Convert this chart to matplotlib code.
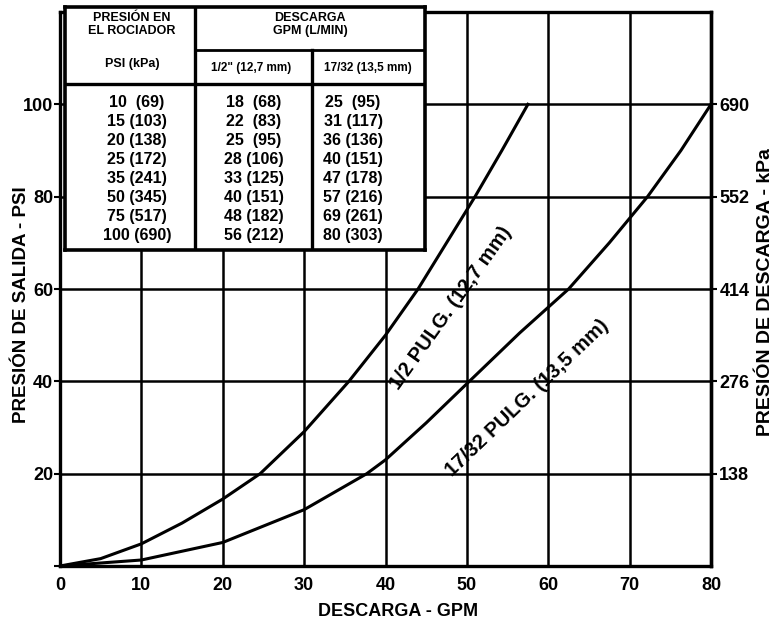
import numpy as np
import matplotlib.pyplot as plt

plt.rcParams['font.family'] = ['Liberation Sans', 'DejaVu Sans']
plt.rcParams['font.weight'] = 'bold'

# curve readings (GPM vs PSI)
gpm_half = [0, 5, 10, 15, 20, 24.6, 30, 35.5, 40, 44, 47.5, 51, 54.3, 57.5]
psi_half = [0, 1.6, 4.8, 9.3, 14.5, 20, 29.1, 40, 50, 60, 70, 80, 90, 100]
gpm_1732 = [0, 10, 20, 30, 37.7, 40, 45, 50.3, 56.5, 62.5, 67.5, 72.2, 76.3, 80]
psi_1732 = [0, 1.3, 5.1, 12.2, 20, 23, 31, 40, 50.5, 60, 70, 80, 90, 100]

x_ticks = [0, 10, 20, 30, 40, 50, 60, 70, 80]
psi_ticks = [0, 20, 40, 60, 80, 100]
kpa_ticks = [138, 276, 414, 552, 690]

# table contents
tab_psi = ['10  (69)', '15 (103)', '20 (138)', '25 (172)', '35 (241)',
           '50 (345)', '75 (517)', '100 (690)']
tab_half = ['18  (68)', '22  (83)', '25  (95)', '28 (106)', '33 (125)',
            '40 (151)', '48 (182)', '56 (212)']
tab_1732 = ['25  (95)', '31 (117)', '36 (136)', '40 (151)', '47 (178)',
            '57 (216)', '69 (261)', '80 (303)']

W, H = 779, 638
fig = plt.figure(figsize=(W / 100, H / 100), dpi=100)
ax = fig.add_axes([60 / W, 72 / H, 651 / W, 554 / H])
ax.set_xlim(0, 80)
ax.set_ylim(0, 120)

ax.set_xticks(x_ticks)
ax.set_xticklabels([str(v) for v in x_ticks])
ax.set_yticks(psi_ticks)
ax.set_yticklabels([''] + [str(v) for v in psi_ticks[1:]])
ax.grid(True, color='black', lw=1.8)
ax.set_axisbelow(True)
ax.tick_params(axis='x', length=0, pad=8, labelsize=13)
ax.tick_params(axis='y', length=4, width=1.5, pad=1, labelsize=13)
for s in ax.spines.values():
    s.set_linewidth(2.4)

ax.plot(gpm_half, psi_half, color='black', lw=2.2)
ax.plot(gpm_1732, psi_1732, color='black', lw=2.2)

ax.text(48.1, 55.9, '1/2 PULG. (12,7 mm)', rotation=54.5, rotation_mode='anchor',
        ha='center', va='center', fontsize=14.5, fontweight='bold')
ax.text(57.4, 36.3, '17/32 PULG. (13,5 mm)', rotation=43.7, rotation_mode='anchor',
        ha='center', va='center', fontsize=14.5, fontweight='bold')

fig.text(398 / W, 1 - 612 / H, 'DESCARGA - GPM', ha='center', va='center',
         fontsize=13, fontweight='bold')
fig.text(22 / W, 1 - 305 / H, 'PRESIÓN DE SALIDA - PSI', rotation=90,
         ha='center', va='center', fontsize=13.5, fontweight='bold')
fig.text(766 / W, 1 - 292 / H, 'PRESIÓN DE DESCARGA - kPa', rotation=90,
         ha='center', va='center', fontsize=14, fontweight='bold')

sec = ax.secondary_yaxis('right', functions=(lambda p: p * 6.9, lambda k: k / 6.9))
sec.set_yticks(kpa_ticks)
sec.tick_params(length=4, width=1.5, pad=2, labelsize=13)
sec.spines['right'].set_linewidth(2.4)

# table box, drawn in its own pixel frame
tb = fig.add_axes([65 / W, (H - 250) / H, 360 / W, 243 / H])
tb.set_xlim(0, 360)
tb.set_ylim(243, 0)
tb.set_xticks([])
tb.set_yticks([])
tb.set_facecolor('white')
for s in tb.spines.values():
    s.set_linewidth(2.6)
tb.plot([130, 130], [0, 243], color='black', lw=2.4)
tb.plot([130, 360], [43, 43], color='black', lw=2)
tb.plot([247, 247], [43, 243], color='black', lw=2.4)
tb.plot([0, 360], [77, 77], color='black', lw=2.4)

hs = 9
tb.text(67, 11, 'PRESIÓN EN', ha='center', va='center', fontsize=hs)
tb.text(67, 24, 'EL ROCIADOR', ha='center', va='center', fontsize=hs)
tb.text(67, 57, 'PSI (kPa)', ha='center', va='center', fontsize=hs)
tb.text(245, 11, 'DESCARGA', ha='center', va='center', fontsize=hs)
tb.text(245, 24, 'GPM (L/MIN)', ha='center', va='center', fontsize=hs)
tb.text(186, 61, '1/2" (12,7 mm)', ha='center', va='center', fontsize=8.5)
tb.text(303, 61, '17/32 (13,5 mm)', ha='center', va='center', fontsize=8.5)

for i in range(len(tab_psi)):
    y = 95 + 19.1 * i
    tb.text(72, y, tab_psi[i], ha='center', va='center', fontsize=11.5)
    tb.text(189, y, tab_half[i], ha='center', va='center', fontsize=11.5)
    tb.text(288, y, tab_1732[i], ha='center', va='center', fontsize=11.5)

fig.savefig('out.png', dpi=100)
